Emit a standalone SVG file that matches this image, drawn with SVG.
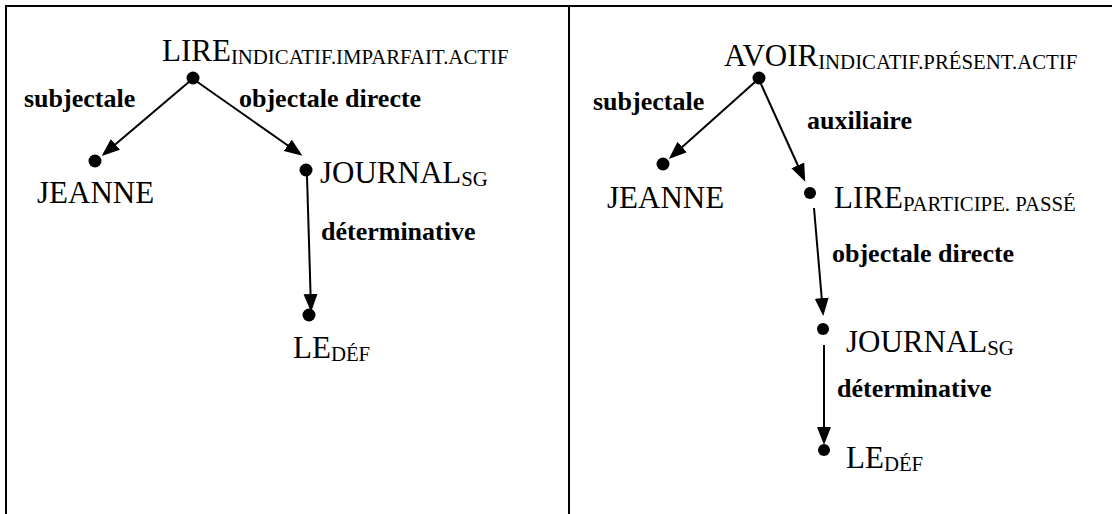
<svg xmlns="http://www.w3.org/2000/svg" width="1112" height="514" viewBox="0 0 1112 514">
<style>
.n{font-family:"Liberation Serif","Times New Roman",serif;font-size:31px;fill:#000}
.s{font-family:"Liberation Serif","Times New Roman",serif;font-size:20.8px}
.l{font-family:"Liberation Serif","Times New Roman",serif;font-size:26px;font-weight:bold;fill:#000}
.e{stroke:#000;stroke-width:2;fill:none;marker-end:url(#ah)}
.b{stroke:#000;stroke-width:2;fill:none}
</style>
<defs>
<marker id="ah" markerUnits="userSpaceOnUse" markerWidth="20" markerHeight="16" refX="15" refY="7" orient="auto"><path d="M0,0 L18,7 L0,14 z" fill="#000"/></marker>
</defs>
<rect width="1112" height="514" fill="#fff"/>
<g id="frame">
<path class="b" d="M6,514 V6 H1112"/>
<path class="b" d="M569,6 V514" stroke-width="2.5"/>
</g>
<g id="connectors">
<line class="e" x1="190" y1="81" x2="104" y2="154"/>
<line class="e" x1="196" y1="81" x2="300" y2="154"/>
<line class="e" x1="307" y1="176" x2="311" y2="309"/>
<line class="e" x1="755" y1="82" x2="671" y2="157"/>
<line class="e" x1="761" y1="84" x2="804" y2="179"/>
<line class="e" x1="814" y1="208" x2="823" y2="313"/>
<line class="e" x1="824" y1="345" x2="824" y2="442"/>
</g>
<g id="left-lire"><circle cx="193" cy="78" r="6.5"/><text class="n" x="162" y="61">LIRE<tspan class="s" dy="3">INDICATIF.IMPARFAIT.ACTIF</tspan></text></g>
<g id="left-jeanne"><circle cx="95" cy="161" r="6.5"/><text class="n" x="37" y="203">JEANNE</text></g>
<g id="left-journal"><circle cx="306" cy="170" r="6.5"/><text class="n" x="320" y="183">JOURNAL<tspan class="s" dy="3">SG</tspan></text></g>
<g id="left-le"><circle cx="309" cy="315" r="6.5"/><text class="n" x="293" y="358">LE<tspan class="s" dy="3">DÉF</tspan></text></g>
<g id="left-labels">
<text class="l" x="24" y="107">subjectale</text>
<text class="l" x="239" y="107">objectale directe</text>
<text class="l" x="321" y="240">déterminative</text>
</g>
<g id="right-avoir"><circle cx="759" cy="78" r="6.5"/><text class="n" x="724" y="66">AVOIR<tspan class="s" dy="3">INDICATIF.PRÉSENT.ACTIF</tspan></text></g>
<g id="right-jeanne"><circle cx="663" cy="164" r="6.5"/><text class="n" x="607" y="208">JEANNE</text></g>
<g id="right-lire"><circle cx="810" cy="193" r="6"/><text class="n" x="834" y="208">LIRE<tspan class="s" dy="3">PARTICIPE. PASSÉ</tspan></text></g>
<g id="right-journal"><circle cx="823" cy="329" r="6"/><text class="n" x="846" y="352">JOURNAL<tspan class="s" dy="3">SG</tspan></text></g>
<g id="right-le"><circle cx="824" cy="450" r="6"/><text class="n" x="846" y="468">LE<tspan class="s" dy="3">DÉF</tspan></text></g>
<g id="right-labels">
<text class="l" x="593" y="110">subjectale</text>
<text class="l" x="807" y="129">auxiliaire</text>
<text class="l" x="832" y="262">objectale directe</text>
<text class="l" x="837" y="397">déterminative</text>
</g>
</svg>
